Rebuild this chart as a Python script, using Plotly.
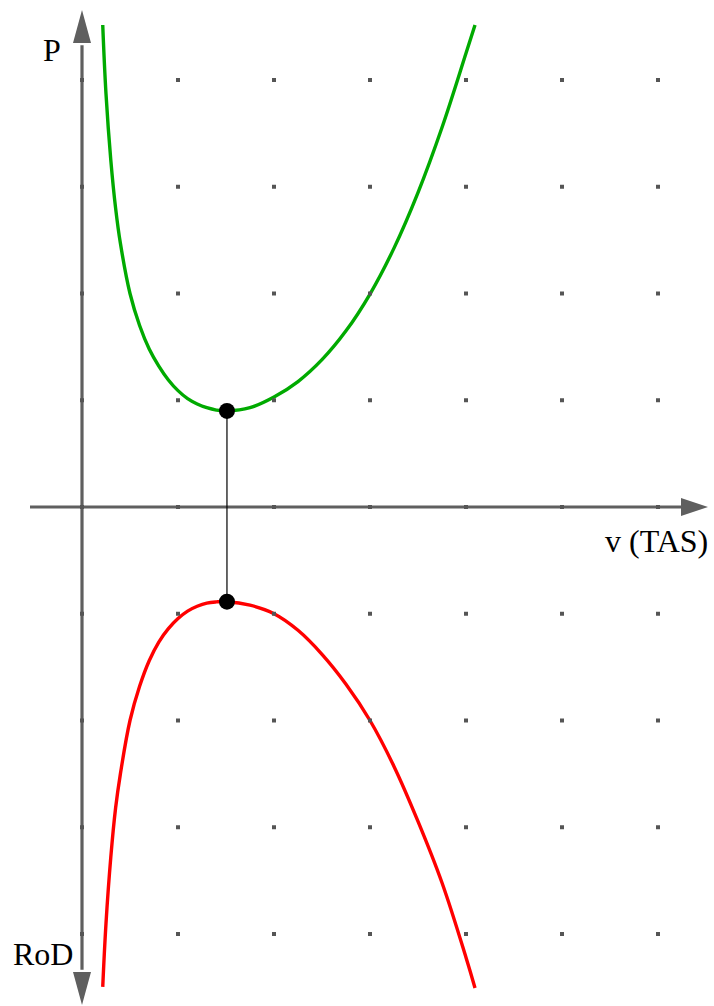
import plotly.graph_objects as go

# Power-required curve (green)
p_v = [0.216, 0.25, 0.3, 0.35, 0.4, 0.5, 0.6, 0.7, 0.8, 0.9, 1.0, 1.1, 1.2, 1.3, 1.4, 1.51,
       1.75, 2.0, 2.25, 2.5, 2.75, 3.0, 3.25, 3.5, 3.75, 4.0, 4.094]
p_val = [4.515, 3.87, 3.25, 2.80, 2.47, 2.00, 1.70, 1.48, 1.32, 1.19, 1.09, 1.015, 0.965, 0.93, 0.908, 0.90,
         0.93, 1.03, 1.175, 1.38, 1.65, 1.995, 2.425, 2.945, 3.555, 4.25, 4.515]

# Rate-of-descent curve (red)
r_v = [0.216, 0.25, 0.3, 0.35, 0.4, 0.5, 0.6, 0.7, 0.8, 0.9, 1.0, 1.1, 1.2, 1.3, 1.4, 1.51,
       1.75, 2.0, 2.25, 2.5, 2.75, 3.0, 3.25, 3.5, 3.75, 4.0, 4.094]
r_val = [-4.496, -3.90, -3.28, -2.82, -2.50, -2.00, -1.68, -1.44, -1.265, -1.14, -1.045, -0.975, -0.93, -0.90, -0.889, -0.887,
         -0.92, -1.00, -1.155, -1.38, -1.66, -2.00, -2.43, -2.945, -3.52, -4.22, -4.506]

# Minimum point (minimum power / minimum sink)
min_v = 1.51
min_p = 0.90
min_rod = -0.887

# Dot grid
grid_x = [0, 1, 2, 3, 4, 5, 6]
grid_y = [-4, -3, -2, -1, 0, 1, 2, 3, 4]

# Axis labels
x_label = "v (TAS)"
y_top_label = "P"
y_bottom_label = "RoD"

W, H = 714, 1006
X0, XSC = 82, 96.0      # pixel origin / pixels per unit
Y0, YSC = 507, 106.75
xr = [(0 - X0) / XSC, (W - X0) / XSC]
yr = [(Y0 - H) / YSC, Y0 / YSC]

def px_x(p):
    return (p - X0) / XSC

def px_y(p):
    return (Y0 - p) / YSC

axis_col = "#5f5f5f"
fig = go.Figure()

gx = [x for x in grid_x for y in grid_y]
gy = [y for x in grid_x for y in grid_y]

fig.add_trace(go.Scatter(x=p_v, y=p_val, mode="lines", line=dict(color="#00aa00", width=3.4, shape="spline", smoothing=1.1), hoverinfo="skip"))
fig.add_trace(go.Scatter(x=r_v, y=r_val, mode="lines", line=dict(color="#ff0000", width=3.4, shape="spline", smoothing=1.1), hoverinfo="skip"))
fig.add_trace(go.Scatter(x=gx, y=gy, mode="markers", marker=dict(symbol="square", size=4, color="#555555"), hoverinfo="skip"))
fig.add_trace(go.Scatter(x=[min_v, min_v], y=[min_p, min_rod], mode="lines", line=dict(color="black", width=1.2), hoverinfo="skip"))
fig.add_trace(go.Scatter(x=[min_v, min_v], y=[min_p, min_rod], mode="markers", marker=dict(color="black", size=16), hoverinfo="skip"))

# axes lines
x_tip = px_x(708)
x_base = px_x(681)
y_top_tip = px_y(10)
y_top_base = px_y(43)
y_bot_tip = px_y(1005)
y_bot_base = px_y(972)
hw_x = 9 / YSC
hw_y = 9 / XSC

shapes = [
    dict(type="line", x0=px_x(30), x1=x_base + 0.02, y0=0, y1=0, line=dict(color=axis_col, width=3.2), layer="below"),
    dict(type="line", x0=0, x1=0, y0=y_top_base - 0.02, y1=y_bot_base + 0.02, line=dict(color=axis_col, width=3.2), layer="below"),
    dict(type="path", path=f"M {x_base} {hw_x} L {x_tip} 0 L {x_base} {-hw_x} Z", fillcolor=axis_col, line=dict(width=0), layer="below"),
    dict(type="path", path=f"M {-hw_y} {y_top_base} L 0 {y_top_tip} L {hw_y} {y_top_base} Z", fillcolor=axis_col, line=dict(width=0), layer="below"),
    dict(type="path", path=f"M {-hw_y} {y_bot_base} L 0 {y_bot_tip} L {hw_y} {y_bot_base} Z", fillcolor=axis_col, line=dict(width=0), layer="below"),
]

font = dict(family="Liberation Serif, Times New Roman, serif", size=32, color="black")
annotations = [
    dict(text=y_top_label, x=52 / W, y=1 - 50 / H, xref="paper", yref="paper", showarrow=False, font=font, xanchor="center", yanchor="middle"),
    dict(text=y_bottom_label, x=42.5 / W, y=1 - 954 / H, xref="paper", yref="paper", showarrow=False, font=font, xanchor="center", yanchor="middle"),
    dict(text=x_label, x=710 / W, y=1 - 541 / H, xref="paper", yref="paper", showarrow=False, font=font, xanchor="right", yanchor="middle"),
]

fig.update_layout(
    width=W, height=H,
    margin=dict(l=0, r=0, t=0, b=0),
    paper_bgcolor="white", plot_bgcolor="white",
    showlegend=False,
    xaxis=dict(range=xr, visible=False, fixedrange=True),
    yaxis=dict(range=yr, visible=False, fixedrange=True),
    shapes=shapes,
    annotations=annotations,
)

fig.write_html(
    "out.html",
    config={"displayModeBar": False},
    post_script="document.body.style.margin='0';document.body.style.overflow='hidden';",
)
